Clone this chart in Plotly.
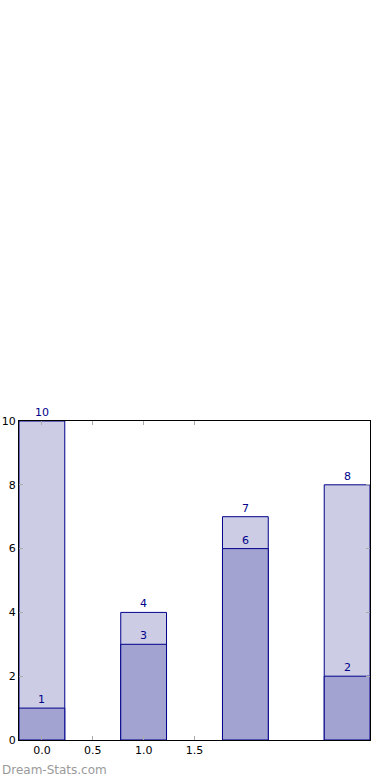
import plotly.graph_objects as go

categories = [0, 1, 2, 3]
back_values = [10, 4, 7, 8]
front_values = [1, 3, 6, 2]
x_tick_vals = [0, 0.5, 1.0, 1.5]
x_tick_text = ["0.0", "0.5", "1.0", "1.5"]
y_tick_vals = [0, 2, 4, 6, 8, 10]

navy = "#00008B"
fig = go.Figure()
fig.add_trace(go.Bar(x=categories, y=back_values, width=0.45,
                     marker=dict(color="#CCCCE4", line=dict(color=navy, width=1)),
                     hoverinfo="skip"))
fig.add_trace(go.Bar(x=categories, y=front_values, width=0.45,
                     marker=dict(color="#A3A3D1", line=dict(color=navy, width=1)),
                     hoverinfo="skip"))

for xv, yv in zip(categories + categories, back_values + front_values):
    fig.add_annotation(x=xv, y=yv, text=str(yv), showarrow=False, yanchor="bottom",
                       yshift=0, font=dict(family="DejaVu Sans", size=11, color=navy))

fig.add_annotation(xref="paper", yref="paper", x=-19/351, y=-30/319, xanchor="left", yanchor="middle",
                   text="Dream-Stats.com", showarrow=False,
                   font=dict(family="DejaVu Sans", size=12, color="#9a9a9a"))

fig.update_layout(
    width=390, height=780, barmode="overlay", showlegend=False,
    plot_bgcolor="white", paper_bgcolor="white",
    margin=dict(l=19, r=20, t=421, b=40),
    font=dict(family="DejaVu Sans", size=11, color="black"),
    xaxis=dict(range=[-0.225, 3.225], tickvals=x_tick_vals, ticktext=x_tick_text,
               ticks="inside", ticklen=4, tickcolor="#aaaaaa", showgrid=False, zeroline=False,
               showline=True, linecolor="black", linewidth=1, mirror="allticks", automargin=False),
    yaxis=dict(range=[0, 10], tickvals=y_tick_vals, ticks="inside", ticklen=4,
               tickcolor="#aaaaaa", showgrid=False, zeroline=False,
               showline=True, linecolor="black", linewidth=1, mirror="allticks", automargin=False),
)
fig.write_html("out.html", config={"displayModeBar": False},
               post_script="document.body.style.margin='0';")
